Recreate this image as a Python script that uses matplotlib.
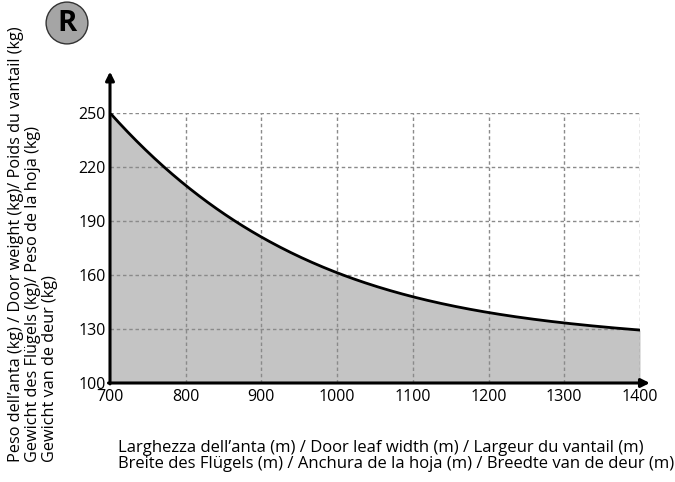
import matplotlib
matplotlib.use("Agg")
import matplotlib.pyplot as plt
from matplotlib.patches import Circle
import numpy as np

plt.rcParams['font.family'] = ['Open Sans', 'DejaVu Sans']

# Data
width_mm = [700, 800, 900, 1000, 1100, 1200, 1300, 1400]
weight_kg = [250, 210, 181, 161, 148, 139.5, 133, 129.5]
x_ticks = [700, 800, 900, 1000, 1100, 1200, 1300, 1400]
y_ticks = [100, 130, 160, 190, 220, 250]
y_label = ("Peso dell\u2019anta (kg) / Door weight (kg)/ Poids du vantail (kg)\n"
           "Gewicht des Fl\u00fcgels (kg)/ Peso de la hoja (kg)\n"
           "Gewicht van de deur (kg)")
x_label = ("Larghezza dell\u2019anta (m) / Door leaf width (m) / Largeur du vantail (m)\n"
           "Breite des Fl\u00fcgels (m) / Anchura de la hoja (m) / Breedte van de deur (m)")

fig = plt.figure(figsize=(6.75, 4.82), dpi=100)
ax = fig.add_axes([110/675, 99/482, 530/675, 270/482])
ax.set_xlim(700, 1400)
ax.set_ylim(100, 250)

xs = np.linspace(700, 1400, 300)
coef = np.polyfit(width_mm, weight_kg, 4)
ys = np.polyval(coef, xs)

ax.fill_between(xs, 100, ys, color='#c4c4c4', zorder=1, linewidth=0)

# grid
for xv in x_ticks[1:]:
    ax.plot([xv, xv], [100, 250], ls=(0, (2.5, 2)), color='#8a8a8a', lw=1, zorder=2)
for yv in y_ticks[1:]:
    ax.plot([700, 1400], [yv, yv], ls=(0, (2.5, 2)), color='#8a8a8a', lw=1, zorder=2)

ax.plot(xs, ys, color='black', lw=2, zorder=3)

for s in ax.spines.values():
    s.set_visible(False)

ax.annotate('', xy=(700, 273), xytext=(700, 99.5), annotation_clip=False,
            arrowprops=dict(arrowstyle='-|>,head_width=0.25,head_length=0.5', color='black', lw=2.2,
                            shrinkA=0, shrinkB=0))
ax.annotate('', xy=(1413, 100), xytext=(698, 100), annotation_clip=False,
            arrowprops=dict(arrowstyle='-|>,head_width=0.25,head_length=0.5', color='black', lw=2.2,
                            shrinkA=0, shrinkB=0))

ax.set_xticks(x_ticks)
ax.set_yticks(y_ticks)
ax.tick_params(length=0, labelsize=11.5)
ax.tick_params(axis='x', pad=4)
ax.tick_params(axis='y', pad=3)

fig.text(118/675, 1 - 456/482, x_label, fontsize=12, ha='left', va='center',
         linespacing=1.0)
fig.text(33/675, 1 - 462/482, y_label, fontsize=11.7, rotation=90, ha='center', va='bottom',
         multialignment='left', linespacing=1.08)

bax = fig.add_axes([45/675, 1 - 45/482, 44/675, 44/482])
bax.set_xlim(-1, 1); bax.set_ylim(-1, 1); bax.axis('off')
bax.set_aspect('equal')
bax.add_patch(Circle((0, 0), 0.95, facecolor='#a5a5a5', edgecolor='#333333', lw=1))
bax.text(0, -0.02, 'R', fontsize=21, fontweight='bold', ha='center', va='center', color='black')

fig.savefig('out.png', dpi=100)
